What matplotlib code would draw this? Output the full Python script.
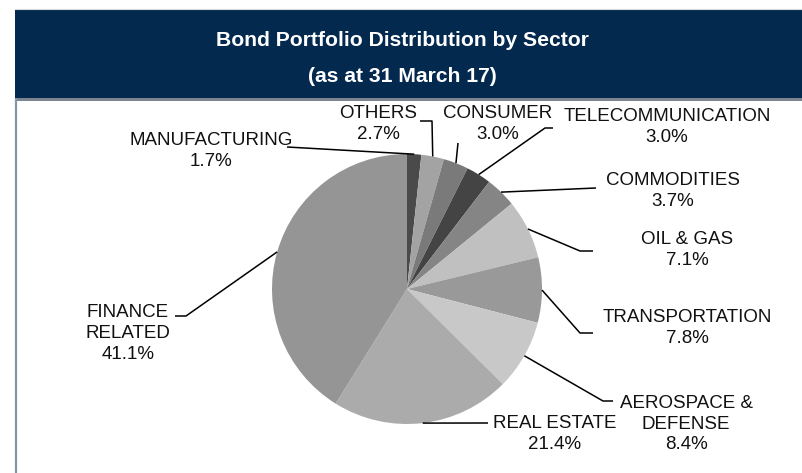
import numpy as np
import matplotlib
matplotlib.use("Agg")
import matplotlib.pyplot as plt
from matplotlib.patches import Rectangle

plt.rcParams['font.family'] = ['Liberation Sans', 'DejaVu Sans']

# pie data, clockwise from 12 o'clock
sectors = ['MANUFACTURING', 'OTHERS', 'CONSUMER', 'TELECOMMUNICATION', 'COMMODITIES',
           'OIL & GAS', 'TRANSPORTATION', 'AEROSPACE &\nDEFENSE', 'REAL ESTATE',
           'FINANCE\nRELATED']
shares = [1.7, 2.7, 3.0, 3.0, 3.7, 7.1, 7.8, 8.4, 21.4, 41.1]
colours = ['#4a4a4a', '#a3a3a3', '#7a7a7a', '#444444', '#858585',
           '#c0c0c0', '#999999', '#c8c8c8', '#ababab', '#959595']

# label layout in pixels (centre x, centre y) and leader elbows
label_pos = [(211, 151), (378, 124), (498, 124), (667, 127), (673, 191),
             (687, 250), (687, 328), (686, 424), (555, 434), (128, 333.5)]
leader_pts = [[(287, 147)],
              [(420, 121), (432, 121)],
              [(458, 143)],
              [(553, 128), (545, 128)],
              [(596, 188)],
              [(593, 251), (580, 251)],
              [(593, 333), (580, 333)],
              [(613, 401), (603, 401)],
              [(488, 423)],
              [(175, 316), (186, 316)]]

W, H = 802, 473
cx, cy, r = 407, 289, 135

fig = plt.figure(figsize=(W / 100, H / 100), dpi=100)
fig.patch.set_facecolor('white')

axp = fig.add_axes([(cx - r) / W, (H - cy - r) / H, 2 * r / W, 2 * r / H])
axp.pie(shares, colors=colours, startangle=90, counterclock=False,
        radius=1, wedgeprops=dict(linewidth=0))
axp.set_xlim(-1, 1)
axp.set_ylim(-1, 1)
axp.axis('off')

ax = fig.add_axes([0, 0, 1, 1], zorder=2)
ax.set_xlim(0, W)
ax.set_ylim(H, 0)
ax.axis('off')
ax.patch.set_alpha(0)

# title band and frame
ax.add_patch(Rectangle((15, 10), W - 15, 88, facecolor='#03294f', edgecolor='none'))
ax.add_patch(Rectangle((15, 98), W - 15, 3, facecolor='#7d8591', edgecolor='none'))
ax.plot([15, W], [9.5, 9.5], color='#d8d8d8', lw=0.8)
ax.plot([16, 16], [98, H], color='#8497ab', lw=1.6, solid_capstyle='butt')

ax.text(402, 40, 'Bond Portfolio Distribution by Sector', color='white',
        fontsize=15.2, fontweight='bold', ha='center', va='center')
ax.text(402, 76, '(as at 31 March 17)', color='white',
        fontsize=15.2, fontweight='bold', ha='center', va='center')

total = sum(shares)
mid = (np.cumsum(shares) - np.array(shares) / 2) / total * 2 * np.pi
for name, v, a, (lx, ly), pts in zip(sectors, shares, mid, label_pos, leader_pts):
    ex = cx + r * np.sin(a)
    ey = cy - r * np.cos(a)
    xs = [p[0] for p in pts] + [ex]
    ys = [p[1] for p in pts] + [ey]
    ax.plot(xs, ys, color='black', lw=1.1, solid_capstyle='butt')
    ax.text(lx, ly, name + '\n' + '%.1f%%' % v, fontsize=13.5, color='#111111',
            ha='center', va='center', multialignment='center', linespacing=1.3)

plt.savefig('out.png', dpi=100)
